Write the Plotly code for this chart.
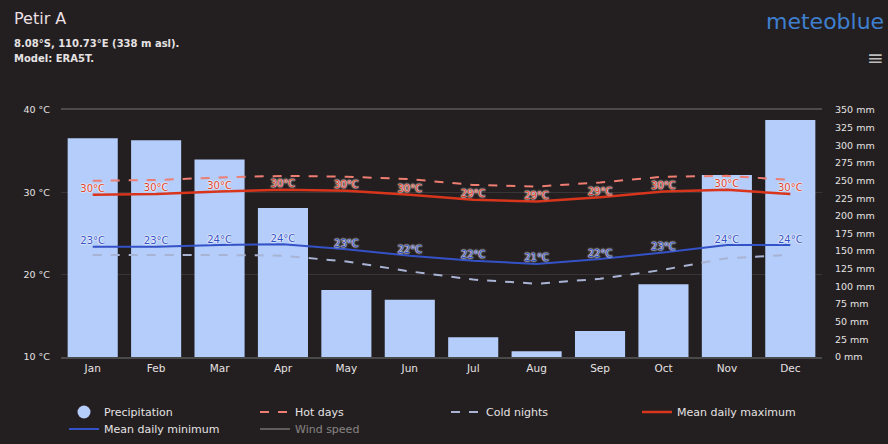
import plotly.graph_objects as go

months = ["Jan", "Feb", "Mar", "Apr", "May", "Jun", "Jul", "Aug", "Sep", "Oct", "Nov", "Dec"]
precipitation_mm = [310, 307, 280, 211, 95, 81, 28, 8, 37, 103, 258, 336]
mean_daily_max = [29.7, 29.8, 30.1, 30.3, 30.2, 29.7, 29.1, 28.9, 29.4, 30.1, 30.3, 29.8]
hot_days = [31.4, 31.5, 31.8, 32.0, 31.9, 31.6, 30.9, 30.7, 31.2, 31.9, 32.0, 31.5]
mean_daily_min = [23.4, 23.4, 23.6, 23.7, 23.1, 22.3, 21.7, 21.3, 21.9, 22.7, 23.6, 23.6]
cold_nights = [22.4, 22.4, 22.4, 22.3, 21.6, 20.4, 19.4, 18.9, 19.5, 20.6, 22.0, 22.4]
wind_speed = [None] * 12

temp_ticks = [10, 20, 30, 40]
temp_ticklabels = ["10 °C", "20 °C", "30 °C", "40 °C"]
precip_ticks = list(range(0, 351, 25))
precip_ticklabels = [f"{v} mm" for v in precip_ticks]

BG = "#231f20"
TXT = "#e6e2e3"

W, H = 888, 444
L, R, T, B = 61, 66, 110, 87
PW, PH = W - L - R, H - T - B


def px_x(px):
    return (px - L) / PW


def px_y(py):
    return (H - B - py) / PH


max_labels = [f"{round(v)}°C" for v in mean_daily_max]
min_labels = [f"{round(v)}°C" for v in mean_daily_min]

label_shadow = "0px 0px 2px #ffffff, 0px 0px 2px #ffffff, 0px 0px 1px #ffffff"

fig = go.Figure()

fig.add_trace(go.Bar(
    x=months, y=precipitation_mm, name="Precipitation", yaxis="y",
    marker=dict(color="#b4cdfa", line=dict(width=0)), showlegend=False,
))
fig.add_trace(go.Scatter(
    x=[None], y=[None], mode="markers", name="Precipitation", yaxis="y2",
    marker=dict(symbol="circle", size=13, color="#b4cdfa"), legend="legend",
))
fig.add_trace(go.Scatter(
    x=months, y=hot_days, name="Hot days", yaxis="y2", mode="lines",
    line=dict(color="#ee7d72", width=2, dash="dash"), legend="legend",
))
fig.add_trace(go.Scatter(
    x=months, y=cold_nights, name="Cold nights", yaxis="y2", mode="lines",
    line=dict(color="#a9b3d3", width=2, dash="dash"), legend="legend",
))
fig.add_trace(go.Scatter(
    x=months, y=mean_daily_max, name="Mean daily maximum", yaxis="y2", mode="lines+text",
    line=dict(color="#d8351c", width=2.5),
    text=max_labels, textposition="top center",
    textfont=dict(family="DejaVu Sans", size=10, color="#e0402a", shadow=label_shadow),
    legend="legend",
))
fig.add_trace(go.Scatter(
    x=months, y=mean_daily_min, name="Mean daily minimum", yaxis="y2", mode="lines+text",
    line=dict(color="#3452c8", width=2),
    text=min_labels, textposition="top center",
    textfont=dict(family="DejaVu Sans", size=10, color="#3452c8", shadow=label_shadow),
    legend="legend2",
))
fig.add_trace(go.Scatter(
    x=months, y=wind_speed, name="Wind speed", yaxis="y2", mode="lines",
    line=dict(color="#9a9a9a", width=2), visible="legendonly", legend="legend2",
))

legend_common = dict(
    orientation="h", xanchor="left", yanchor="middle",
    entrywidth=146, font=dict(size=11, color=TXT), bgcolor="rgba(0,0,0,0)",
    traceorder="normal",
)

fig.update_layout(
    width=W, height=H,
    margin=dict(l=L, r=R, t=T, b=B, autoexpand=False),
    paper_bgcolor=BG, plot_bgcolor=BG,
    font=dict(family="DejaVu Sans", color=TXT, size=10),
    bargap=0.21,
    xaxis=dict(
        range=[-0.5, len(months) - 0.5],
        showgrid=False, showline=True, mirror=True, linecolor="#4a4a4a", linewidth=2,
        ticks="", tickfont=dict(size=10.5, color=TXT), zeroline=False, automargin=False,
    ),
    yaxis=dict(
        side="right", range=[0, 350], tickvals=precip_ticks, ticktext=precip_ticklabels,
        showgrid=False, zeroline=False, tickfont=dict(size=9.5, color=TXT), ticklabelstandoff=12,
        automargin=False,
    ),
    yaxis2=dict(
        overlaying="y", side="left", range=[10, 40], tickvals=temp_ticks, ticktext=temp_ticklabels,
        showgrid=True, gridcolor="rgba(255,255,255,0.10)", gridwidth=1, zeroline=False,
        tickfont=dict(size=9.5, color=TXT), ticklabelstandoff=10, automargin=False,
    ),
    legend=dict(x=px_x(64), y=px_y(412), **legend_common),
    legend2=dict(x=px_x(64), y=px_y(429), **legend_common),
    showlegend=True,
)

fig.add_annotation(xref="paper", yref="paper", x=px_x(12), y=px_y(19),
                   xanchor="left", yanchor="middle", showarrow=False,
                   text="Petir A", font=dict(size=16, color="#eadfe2"))
fig.add_annotation(xref="paper", yref="paper", x=px_x(12), y=px_y(44),
                   xanchor="left", yanchor="middle", showarrow=False,
                   text="<b>8.08°S, 110.73°E (338 m asl).</b>", font=dict(size=10, color=TXT))
fig.add_annotation(xref="paper", yref="paper", x=px_x(12), y=px_y(59),
                   xanchor="left", yanchor="middle", showarrow=False,
                   text="<b>Model: ERA5T.</b>", font=dict(size=10, color=TXT))
fig.add_annotation(xref="paper", yref="paper", x=px_x(886), y=px_y(21),
                   xanchor="right", yanchor="middle", showarrow=False,
                   text="meteoblue", font=dict(size=22, color="#3f7fd0"))
fig.add_annotation(xref="paper", yref="paper", x=px_x(886), y=px_y(58),
                   xanchor="right", yanchor="middle", showarrow=False,
                   text="≡", font=dict(size=20, color="#bdbdbd"))

fig.write_html(
    "out.html",
    config={"displayModeBar": False},
    post_script="document.body.style.margin='0';document.body.style.padding='0';document.body.style.overflow='hidden';",
)
